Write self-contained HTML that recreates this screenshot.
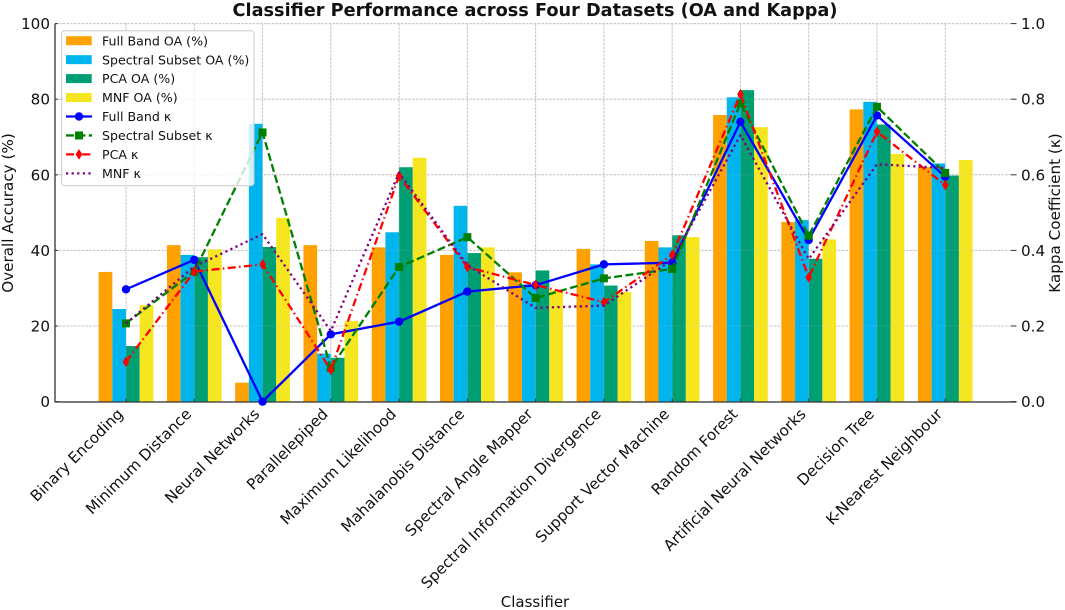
<!DOCTYPE html>
<html lang="en">
<head>
<meta charset="utf-8">
<title>Classifier Performance across Four Datasets</title>
<style>
html,body{margin:0;padding:0;background:#fff;width:1065px;height:610px;overflow:hidden}
svg{display:block;filter:blur(0.3px)}
text{font-family:"DejaVu Sans","Liberation Sans",sans-serif;fill:#111}
</style>
</head>
<body>
<svg id="chart" width="1065" height="610" viewBox="0 0 1065 610" xmlns="http://www.w3.org/2000/svg">
  <text x="535" y="16" text-anchor="middle" font-size="17.7" font-weight="bold">Classifier Performance across Four Datasets (OA and Kappa)</text>
  <text transform="translate(13,213) rotate(-90)" text-anchor="middle" font-size="15.2">Overall Accuracy (%)</text>
  <text transform="translate(1060,213) rotate(-90)" text-anchor="middle" font-size="15.2">Kappa Coefficient (κ)</text>
  <text x="535" y="607" text-anchor="middle" font-size="15">Classifier</text>
  <g id="grid-under"></g>
  <g id="bars"></g>
  <g id="grid-over"></g>
  <g id="axes"></g>
  <g id="lines"></g>
  <g id="legend"></g>
</svg>
<script>
const categories = ["Binary Encoding","Minimum Distance","Neural Networks","Parallelepiped","Maximum Likelihood","Mahalanobis Distance","Spectral Angle Mapper","Spectral Information Divergence","Support Vector Machine","Random Forest","Artificial Neural Networks","Decision Tree","K-Nearest Neighbour"];
const oaFullBand = [34.3,41.4,5,41.4,40.8,38.8,34.2,40.4,42.5,75.8,47.5,77.3,62];
const oaSpectral = [24.5,38.8,73.5,12.7,44.8,51.8,31,36.3,40.8,80.5,48,79.3,63];
const oaPca = [14.7,38.2,40.9,11.6,62,39.3,34.7,30.7,44,82.4,37.8,73.3,59.8];
const oaMnf = [25.5,40.3,48.6,21.3,64.5,40.8,29.5,29,43.5,72.6,42.9,65.5,63.9];
const kappaFullBand = [0.297,0.375,0,0.178,0.2115,0.291,0.308,0.363,0.3675,0.74,0.4275,0.757,0.595];
const kappaSpectral = [0.207,0.344,0.712,0.089,0.356,0.435,0.274,0.326,0.351,0.789,0.439,0.78,0.605];
const kappaPca = [0.1055,0.344,0.363,0.084,0.597,0.356,0.3085,0.263,0.388,0.813,0.329,0.714,0.573];
const kappaMnf = [0.207,0.357,0.443,0.187,0.605,0.361,0.248,0.254,0.375,0.705,0.377,0.628,0.618];
const oaTicks = [0,20,40,60,80,100];
const kappaTicks = [0,0.2,0.4,0.6,0.8,1];
const barLabels = ["Full Band OA (%)","Spectral Subset OA (%)","PCA OA (%)","MNF OA (%)"];
const lineLabels = ["Full Band κ","Spectral Subset κ","PCA κ","MNF κ"];

const NS = "http://www.w3.org/2000/svg";
const plotLeft = 55, plotRight = 1011, plotTop = 23.6, plotBottom = 401.6;
const firstCat = 126, catStep = 68.27;
const barWidth = 13.67;
const barColors = ["#FFA100","#00B5EE","#009E73","#F6E620"];
const lineStyles = [
  {color:"#0000FF",dash:"",marker:"circle"},
  {color:"#008000",dash:"8 3.4",marker:"square"},
  {color:"#FF0000",dash:"8 3.4 1.5 3.4",marker:"diamond"},
  {color:"#800080",dash:"2.2 3.4",marker:"none"}
];
const barSeries = [oaFullBand,oaSpectral,oaPca,oaMnf];
const lineSeries = [kappaFullBand,kappaSpectral,kappaPca,kappaMnf];

function xScale(i){return firstCat + i*catStep;}
function yOa(v){return plotBottom - (v/100)*(plotBottom-plotTop);}
function yKappa(v){return plotBottom - v*(plotBottom-plotTop);}
function mk(tag,attrs,parent){
  const el = document.createElementNS(NS,tag);
  for(const k in attrs){el.setAttribute(k,attrs[k]);}
  parent.appendChild(el);
  return el;
}
function drawMarker(kind,cx,cy,color,parent){
  let el = null;
  if(kind==="circle"){
    el = mk("circle",{cx:cx,cy:cy,r:4.2,fill:color},parent);
  } else if(kind==="square"){
    el = mk("rect",{x:cx-4,y:cy-4,width:8,height:8,fill:color},parent);
  } else if(kind==="diamond"){
    el = mk("polygon",{points:(cx)+","+(cy-5.4)+" "+(cx+3.3)+","+cy+" "+(cx)+","+(cy+5.4)+" "+(cx-3.3)+","+cy,fill:color},parent);
  }
  return el;
}

const gridUnder = document.getElementById("grid-under");
const gridOver = document.getElementById("grid-over");
function drawGrid(parent,opacity){
  oaTicks.forEach(function(t){
    const l = mk("line",{x1:plotLeft,x2:plotRight,y1:yOa(t),y2:yOa(t),stroke:"#c4c4c4","stroke-width":1,"stroke-dasharray":"2.6 1.2",opacity:opacity},parent);
    
    
  });
  categories.forEach(function(c,i){
    const l = mk("line",{x1:xScale(i),x2:xScale(i),y1:plotTop,y2:plotBottom,stroke:"#c4c4c4","stroke-width":1,"stroke-dasharray":"2.6 1.2",opacity:opacity},parent);
    
    
  });
}
drawGrid(gridUnder,1);

const barsG = document.getElementById("bars");
barSeries.forEach(function(vals,s){
  vals.forEach(function(v,i){
    const left = xScale(i) - 2*barWidth + s*barWidth;
    const r = mk("rect",{x:left,y:yOa(v),width:barWidth,height:plotBottom-yOa(v),fill:barColors[s]},barsG);
    
    
  });
});
drawGrid(gridOver,0.2);

const axes = document.getElementById("axes");
const leftSpine = mk("line",{x1:plotLeft,x2:plotLeft,y1:plotTop,y2:plotBottom+0.8,stroke:"#333","stroke-width":1.3},axes);


const bottomSpine = mk("line",{x1:plotLeft,x2:1016.5,y1:plotBottom+0.4,y2:plotBottom+0.4,stroke:"#333","stroke-width":1.3},axes);



oaTicks.forEach(function(t){
  const y = yOa(t);
  const tm = mk("line",{x1:plotLeft,x2:plotLeft+3,y1:y,y2:y,stroke:"#333","stroke-width":1},axes);
  
  
  const tx = mk("text",{x:50,y:y+5.5,"text-anchor":"end","font-size":15.2},axes);
  tx.textContent = String(t);
  
  
});
kappaTicks.forEach(function(t){
  const y = yKappa(t);
  const tm = mk("line",{x1:plotRight,x2:1016.5,y1:y,y2:y,stroke:"#333","stroke-width":1},axes);
  
  
  const tx = mk("text",{x:1021,y:y+5.5,"font-size":15.2},axes);
  tx.textContent = t.toFixed(1);
  
  
});
categories.forEach(function(c,i){
  const x = xScale(i);
  const tm = mk("line",{x1:x,x2:x,y1:plotBottom-3,y2:plotBottom,stroke:"#333","stroke-width":1},axes);
  
  
  const tx = mk("text",{transform:"translate("+(x-2)+",415) rotate(-45)","text-anchor":"end","font-size":15.2},axes);
  tx.textContent = c;
  
  
});

const linesG = document.getElementById("lines");
lineSeries.forEach(function(vals,s){
  const st = lineStyles[s];
  const pts = vals.map(function(v,i){return xScale(i)+","+yKappa(v);}).join(" ");
  const pl = mk("polyline",{points:pts,fill:"none",stroke:st.color,"stroke-width":2.3,"stroke-linejoin":"round"},linesG);
  if(st.dash){pl.setAttribute("stroke-dasharray",st.dash);}
  
  
  vals.forEach(function(v,i){
    const m = drawMarker(st.marker,xScale(i),yKappa(v),st.color,linesG);
    if(m){
      
      
    }
  });
});

const legend = document.getElementById("legend");
const box = mk("rect",{x:61.7,y:30.7,width:192.3,height:155,rx:3,ry:3,fill:"#fff","fill-opacity":0.8,stroke:"#ccc","stroke-width":1},legend);


const rowStart = 40.7, rowStep = 18.95;
barLabels.forEach(function(lbl,i){
  const y = rowStart + i*rowStep;
  const sw = mk("rect",{x:66,y:y-4.5,width:25.7,height:9,fill:barColors[i]},legend);
  
  
  const tx = mk("text",{x:102,y:y+4.6,"font-size":12.6},legend);
  tx.textContent = lbl;
  
  
});
lineLabels.forEach(function(lbl,i){
  const y = rowStart + (i+4)*rowStep;
  const st = lineStyles[i];
  const h = mk("line",{x1:66,x2:92,y1:y,y2:y,stroke:st.color,"stroke-width":2.3},legend);
  if(st.dash){h.setAttribute("stroke-dasharray",st.dash);}
  
  
  const m = drawMarker(st.marker,79,y,st.color,legend);
  if(m){
    
    
  }
  const tx = mk("text",{x:102,y:y+4.6,"font-size":12.6},legend);
  tx.textContent = lbl;
  
  
});
</script>
</body>
</html>
